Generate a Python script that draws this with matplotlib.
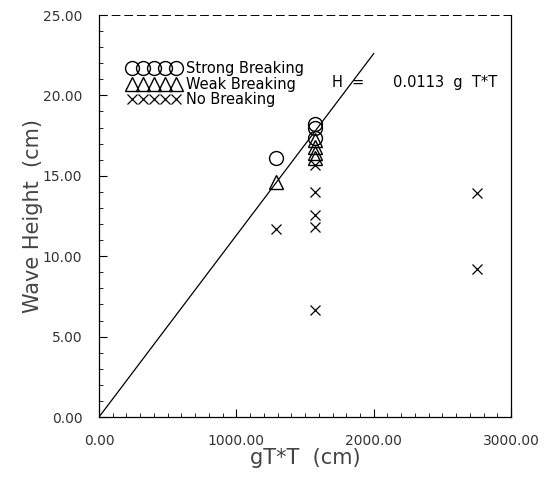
import matplotlib.pyplot as plt
from matplotlib.ticker import MultipleLocator, FormatStrFormatter

# wave data (gT*T in cm, wave height in cm)
strong_x = [1290, 1570, 1570, 1570]
strong_y = [16.1, 18.2, 18.0, 17.35]

weak_x = [1290, 1570, 1570, 1570, 1570]
weak_y = [14.6, 17.2, 16.8, 16.4, 16.1]

none_x = [1290, 1570, 1570, 1570, 1570, 1570, 2750, 2750]
none_y = [11.7, 15.7, 14.0, 12.55, 11.8, 6.65, 13.9, 9.2]

# fitted line H = 0.0113 g T*T
coef = 0.0113
line_x = [0, 2000]
line_y = [coef * v for v in line_x]

fig = plt.figure(figsize=(5.45, 4.84), dpi=100)
ax = fig.add_axes([0.1817, 0.1384, 0.756, 0.8306])

ax.plot(line_x, line_y, color="black", lw=0.9)
ax.plot(strong_x, strong_y, "o", mfc="none", mec="black", ms=10, mew=1.0,
        ls="none", label="Strong Breaking")
ax.plot(weak_x, weak_y, "^", mfc="none", mec="black", ms=10, mew=1.0,
        ls="none", label="Weak Breaking")
ax.plot(none_x, none_y, "x", color="black", ms=7, mew=0.9,
        ls="none", label="No Breaking")

ax.set_xlim(0, 3000)
ax.set_ylim(0, 25)
ax.xaxis.set_major_locator(MultipleLocator(1000))
ax.xaxis.set_minor_locator(MultipleLocator(100))
ax.yaxis.set_major_locator(MultipleLocator(5))
ax.yaxis.set_minor_locator(MultipleLocator(1))
ax.xaxis.set_major_formatter(FormatStrFormatter("%.2f"))
ax.yaxis.set_major_formatter(FormatStrFormatter("%.2f"))
ax.tick_params(which="both", direction="in", labelsize=10, colors="black",
               labelcolor="#333333")
ax.tick_params(which="major", length=6)
ax.tick_params(which="minor", length=3)
ax.tick_params(axis="x", pad=12)
ax.tick_params(axis="y", pad=12)

for s in ax.spines.values():
    s.set_linewidth(0.9)
ax.spines["top"].set_linestyle((0, (8, 5)))
ax.spines["top"].set_linewidth(0.7)

ax.set_xlabel("gT*T  (cm)", fontsize=15, color="#444444", labelpad=0)
ax.set_ylabel("Wave Height  (cm)", fontsize=15, color="#444444", labelpad=0)

ax.legend(loc="upper left", bbox_to_anchor=(0.055, 0.9), numpoints=5,
          handlelength=3.6, handletextpad=0.4, labelspacing=0.05,
          frameon=False, fontsize=10.5, borderaxespad=0)

ax.text(0.565, 0.82, "H  =", transform=ax.transAxes, fontsize=10.5)
ax.text(0.713, 0.82, "0.0113  g  T*T", transform=ax.transAxes, fontsize=10.5)

plt.savefig("out.png", dpi=100)
